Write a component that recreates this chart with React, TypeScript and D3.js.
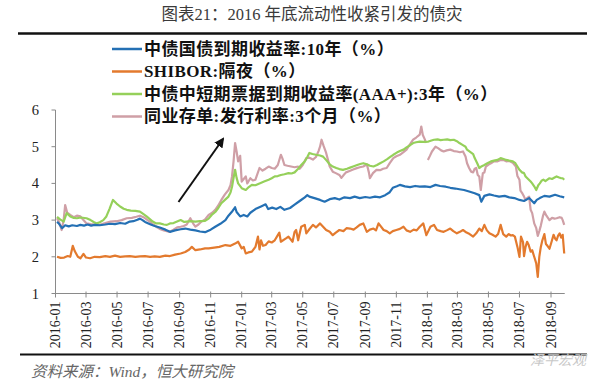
import React from "react";
import * as d3 from "d3";

type Pt = [string, number | null];

const titleText = "图表21：2016 年底流动性收紧引发的债灾";
const sourceText = "资料来源：Wind，恒大研究院";
const watermarkText = "泽平宏观";

const seriesNames = [
  "中债国债到期收益率:10年（%）",
  "SHIBOR:隔夜（%）",
  "中债中短期票据到期收益率(AAA+):3年（%）",
  "同业存单:发行利率:3个月（%）",
];
const seriesColors = ["#2470b4", "#e37a2e", "#95d05a", "#cf9fa6"];

const yTicks = [1, 2, 3, 4, 5, 6];

const govt10y: Pt[] = [
  ["2016-01-04", 2.95], ["2016-01-08", 2.9], ["2016-01-14", 2.78], ["2016-01-20", 2.86], ["2016-01-27", 2.83],
  ["2016-02-03", 2.86], ["2016-02-12", 2.84], ["2016-02-19", 2.87], ["2016-02-26", 2.85], ["2016-03-04", 2.88],
  ["2016-03-11", 2.85], ["2016-03-18", 2.87], ["2016-03-28", 2.86], ["2016-04-08", 2.88], ["2016-04-17", 2.9],
  ["2016-04-27", 2.89], ["2016-05-07", 2.92], ["2016-05-17", 2.9], ["2016-05-26", 2.96], ["2016-06-02", 2.97],
  ["2016-06-10", 3.01], ["2016-06-15", 3.04], ["2016-06-20", 3.0], ["2016-06-25", 2.95], ["2016-07-05", 2.89],
  ["2016-07-10", 2.86], ["2016-07-14", 2.84], ["2016-07-24", 2.8], ["2016-08-04", 2.74], ["2016-08-13", 2.68],
  ["2016-08-23", 2.72], ["2016-09-03", 2.75], ["2016-09-12", 2.77], ["2016-09-22", 2.74], ["2016-10-02", 2.72],
  ["2016-10-11", 2.69], ["2016-10-21", 2.67], ["2016-11-01", 2.74], ["2016-11-10", 2.82], ["2016-11-20", 2.9],
  ["2016-11-30", 3.0], ["2016-12-06", 3.12], ["2016-12-14", 3.25], ["2016-12-19", 3.35], ["2016-12-22", 3.22],
  ["2016-12-29", 3.1], ["2017-01-05", 3.14], ["2017-01-12", 3.1], ["2017-01-18", 3.2], ["2017-01-28", 3.3],
  ["2017-02-08", 3.37], ["2017-02-17", 3.43], ["2017-02-22", 3.3], ["2017-03-02", 3.34], ["2017-03-10", 3.3],
  ["2017-03-18", 3.36], ["2017-03-26", 3.28], ["2017-04-06", 3.33], ["2017-04-15", 3.42], ["2017-04-25", 3.52],
  ["2017-05-05", 3.62], ["2017-05-10", 3.68], ["2017-05-14", 3.64], ["2017-05-24", 3.6], ["2017-06-04", 3.55],
  ["2017-06-13", 3.5], ["2017-06-23", 3.57], ["2017-07-03", 3.6], ["2017-07-12", 3.56], ["2017-07-22", 3.62],
  ["2017-08-02", 3.6], ["2017-08-11", 3.64], ["2017-08-21", 3.6], ["2017-09-01", 3.63], ["2017-09-10", 3.61],
  ["2017-09-20", 3.64], ["2017-09-30", 3.62], ["2017-10-10", 3.68], ["2017-10-19", 3.76], ["2017-10-25", 3.88],
  ["2017-11-02", 3.92], ["2017-11-08", 3.96], ["2017-11-18", 3.92], ["2017-11-28", 3.9], ["2017-12-08", 3.93],
  ["2017-12-17", 3.91], ["2017-12-27", 3.92], ["2018-01-07", 3.9], ["2018-01-17", 3.96], ["2018-01-26", 3.93],
  ["2018-02-06", 3.91], ["2018-02-15", 3.88], ["2018-02-25", 3.86], ["2018-03-05", 3.84], ["2018-03-14", 3.82],
  ["2018-03-24", 3.78], ["2018-04-04", 3.73], ["2018-04-13", 3.68], ["2018-04-17", 3.5], ["2018-04-23", 3.66],
  ["2018-05-03", 3.7], ["2018-05-12", 3.67], ["2018-05-22", 3.64], ["2018-06-02", 3.66], ["2018-06-11", 3.62],
  ["2018-06-21", 3.6], ["2018-07-01", 3.55], ["2018-07-10", 3.52], ["2018-07-20", 3.6], ["2018-07-30", 3.46],
  ["2018-08-04", 3.55], ["2018-08-10", 3.6], ["2018-08-19", 3.66], ["2018-08-29", 3.64], ["2018-09-09", 3.69],
  ["2018-09-18", 3.65], ["2018-09-27", 3.62],
];

const shiborON: Pt[] = [
  ["2016-01-04", 2.0], ["2016-01-11", 1.97], ["2016-01-18", 1.98], ["2016-01-25", 2.02], ["2016-01-30", 2.0],
  ["2016-02-04", 2.3], ["2016-02-08", 2.15], ["2016-02-14", 2.0], ["2016-02-19", 1.96], ["2016-02-25", 2.08],
  ["2016-03-01", 1.98], ["2016-03-09", 1.96], ["2016-03-18", 2.0], ["2016-03-28", 1.99], ["2016-04-08", 2.02],
  ["2016-04-17", 2.0], ["2016-04-27", 2.03], ["2016-05-07", 2.0], ["2016-05-17", 2.01], ["2016-05-26", 2.02],
  ["2016-06-06", 2.0], ["2016-06-15", 2.01], ["2016-06-25", 2.02], ["2016-07-05", 2.0], ["2016-07-14", 2.01],
  ["2016-07-24", 2.0], ["2016-08-04", 2.03], ["2016-08-13", 2.02], ["2016-08-23", 2.06], ["2016-09-03", 2.09],
  ["2016-09-12", 2.13], ["2016-09-20", 2.2], ["2016-09-25", 2.27], ["2016-10-02", 2.18], ["2016-10-11", 2.2],
  ["2016-10-21", 2.23], ["2016-10-28", 2.23], ["2016-11-08", 2.25], ["2016-11-18", 2.27], ["2016-11-30", 2.32],
  ["2016-12-10", 2.3], ["2016-12-19", 2.36], ["2016-12-25", 2.41], ["2017-01-01", 2.23], ["2017-01-05", 2.27],
  ["2017-01-09", 2.09], ["2017-01-14", 2.12], ["2017-01-21", 2.14], ["2017-01-28", 2.27], ["2017-02-02", 2.55],
  ["2017-02-05", 2.2], ["2017-02-08", 2.45], ["2017-02-12", 2.3], ["2017-02-17", 2.32], ["2017-02-23", 2.42],
  ["2017-03-01", 2.39], ["2017-03-07", 2.45], ["2017-03-13", 2.59], ["2017-03-16", 2.66], ["2017-03-19", 2.41],
  ["2017-03-29", 2.5], ["2017-04-03", 2.55], ["2017-04-11", 2.41], ["2017-04-15", 2.68], ["2017-04-18", 2.73],
  ["2017-04-22", 2.45], ["2017-04-28", 2.82], ["2017-05-05", 2.87], ["2017-05-08", 2.64], ["2017-05-14", 2.75],
  ["2017-05-21", 2.87], ["2017-05-27", 2.8], ["2017-06-04", 2.91], ["2017-06-10", 2.82], ["2017-06-16", 2.73],
  ["2017-06-23", 2.68], ["2017-06-29", 2.59], ["2017-07-05", 2.66], ["2017-07-12", 2.73], ["2017-07-20", 2.7],
  ["2017-07-26", 2.78], ["2017-08-02", 2.77], ["2017-08-09", 2.74], ["2017-08-15", 2.8], ["2017-08-21", 2.87],
  ["2017-08-28", 2.91], ["2017-09-04", 2.68], ["2017-09-10", 2.74], ["2017-09-17", 2.77], ["2017-09-22", 2.72],
  ["2017-09-27", 2.91], ["2017-10-07", 2.73], ["2017-10-13", 2.7], ["2017-10-19", 2.64], ["2017-10-25", 2.7],
  ["2017-11-01", 2.73], ["2017-11-08", 2.76], ["2017-11-15", 2.82], ["2017-11-21", 2.72], ["2017-11-28", 2.68],
  ["2017-12-05", 2.74], ["2017-12-11", 2.72], ["2017-12-17", 2.82], ["2017-12-24", 2.91], ["2017-12-30", 2.59],
  ["2018-01-07", 2.82], ["2018-01-14", 2.87], ["2018-01-20", 2.73], ["2018-01-27", 2.7], ["2018-02-02", 2.68],
  ["2018-02-08", 2.72], ["2018-02-15", 2.77], ["2018-02-21", 2.7], ["2018-02-28", 2.64], ["2018-03-06", 2.68],
  ["2018-03-12", 2.73], ["2018-03-19", 2.66], ["2018-03-25", 2.62], ["2018-04-01", 2.55], ["2018-04-07", 2.64],
  ["2018-04-13", 2.77], ["2018-04-18", 2.7], ["2018-04-23", 2.87], ["2018-04-28", 2.72], ["2018-05-03", 2.64],
  ["2018-05-09", 2.6], ["2018-05-15", 2.55], ["2018-05-20", 2.62], ["2018-05-25", 2.87], ["2018-05-30", 2.62],
  ["2018-06-05", 2.55], ["2018-06-10", 2.62], ["2018-06-14", 2.58], ["2018-06-18", 2.59], ["2018-06-22", 2.55],
  ["2018-06-27", 2.27], ["2018-07-01", 2.0], ["2018-07-04", 2.55], ["2018-07-08", 2.4], ["2018-07-10", 2.02],
  ["2018-07-13", 2.27], ["2018-07-16", 2.41], ["2018-07-19", 2.33], ["2018-07-23", 2.14], ["2018-07-26", 2.18],
  ["2018-07-30", 2.0], ["2018-08-03", 1.82], ["2018-08-06", 1.45], ["2018-08-09", 2.0], ["2018-08-12", 2.27],
  ["2018-08-15", 2.45], ["2018-08-19", 2.62], ["2018-08-22", 2.35], ["2018-08-25", 2.3], ["2018-08-29", 2.22],
  ["2018-09-03", 2.45], ["2018-09-06", 2.6], ["2018-09-09", 2.5], ["2018-09-12", 2.45], ["2018-09-15", 2.58],
  ["2018-09-18", 2.64], ["2018-09-21", 2.52], ["2018-09-24", 2.6], ["2018-09-27", 2.09],
];

const mtn3y: Pt[] = [
  ["2016-01-04", 3.09], ["2016-01-10", 3.02], ["2016-01-17", 2.96], ["2016-01-23", 3.19], ["2016-01-30", 3.1],
  ["2016-02-06", 3.06], ["2016-02-12", 3.05], ["2016-02-20", 3.07], ["2016-03-02", 3.05], ["2016-03-10", 3.0],
  ["2016-03-16", 2.95], ["2016-03-22", 2.91], ["2016-03-28", 2.94], ["2016-04-04", 3.0], ["2016-04-10", 3.1],
  ["2016-04-16", 3.3], ["2016-04-23", 3.55], ["2016-04-30", 3.45], ["2016-05-07", 3.37], ["2016-05-14", 3.31],
  ["2016-05-20", 3.28], ["2016-05-28", 3.26], ["2016-06-06", 3.25], ["2016-06-15", 3.23], ["2016-06-22", 3.16],
  ["2016-06-28", 3.1], ["2016-07-05", 3.02], ["2016-07-10", 2.96], ["2016-07-17", 2.91], ["2016-07-24", 2.91],
  ["2016-08-01", 2.88], ["2016-08-07", 2.87], ["2016-08-13", 2.91], ["2016-08-20", 2.92], ["2016-08-27", 2.96],
  ["2016-09-03", 3.0], ["2016-09-10", 2.95], ["2016-09-15", 2.96], ["2016-09-22", 2.97], ["2016-10-02", 2.96],
  ["2016-10-11", 2.97], ["2016-10-21", 2.98], ["2016-10-28", 3.04], ["2016-11-03", 3.14], ["2016-11-10", 3.22],
  ["2016-11-16", 3.33], ["2016-11-22", 3.46], ["2016-11-29", 3.55], ["2016-12-06", 3.64], ["2016-12-10", 3.75],
  ["2016-12-13", 3.91], ["2016-12-16", 4.15], ["2016-12-19", 4.37], ["2016-12-22", 4.15], ["2016-12-25", 4.0],
  ["2017-01-01", 3.87], ["2017-01-09", 3.82], ["2017-01-15", 3.9], ["2017-01-21", 3.96], ["2017-01-28", 3.95],
  ["2017-02-05", 4.0], ["2017-02-14", 4.05], ["2017-02-23", 4.1], ["2017-03-01", 4.14], ["2017-03-07", 4.19],
  ["2017-03-13", 4.2], ["2017-03-19", 4.23], ["2017-03-26", 4.25], ["2017-04-03", 4.28], ["2017-04-09", 4.27],
  ["2017-04-15", 4.3], ["2017-04-22", 4.4], ["2017-04-28", 4.5], ["2017-05-05", 4.6], ["2017-05-10", 4.72],
  ["2017-05-14", 4.83], ["2017-05-20", 4.8], ["2017-05-27", 4.78], ["2017-06-04", 4.76], ["2017-06-10", 4.73],
  ["2017-06-17", 4.62], ["2017-06-23", 4.52], ["2017-06-29", 4.46], ["2017-07-06", 4.42], ["2017-07-12", 4.39],
  ["2017-07-19", 4.37], ["2017-07-27", 4.4], ["2017-08-02", 4.43], ["2017-08-08", 4.46], ["2017-08-16", 4.5],
  ["2017-08-22", 4.53], ["2017-08-28", 4.55], ["2017-09-04", 4.52], ["2017-09-10", 4.48], ["2017-09-17", 4.46],
  ["2017-09-24", 4.5], ["2017-09-30", 4.55], ["2017-10-07", 4.6], ["2017-10-14", 4.66], ["2017-10-20", 4.72],
  ["2017-10-26", 4.78], ["2017-11-02", 4.84], ["2017-11-08", 4.88], ["2017-11-15", 4.92], ["2017-11-21", 4.98],
  ["2017-11-28", 5.04], ["2017-12-04", 5.1], ["2017-12-10", 5.12], ["2017-12-17", 5.14], ["2017-12-24", 5.13],
  ["2018-01-03", 5.14], ["2018-01-09", 5.17], ["2018-01-14", 5.19], ["2018-01-21", 5.2], ["2018-01-27", 5.18],
  ["2018-02-02", 5.19], ["2018-02-09", 5.2], ["2018-02-15", 5.18], ["2018-02-22", 5.19], ["2018-02-28", 5.15],
  ["2018-03-05", 5.1], ["2018-03-11", 5.05], ["2018-03-17", 5.0], ["2018-03-20", 4.92], ["2018-03-26", 4.86],
  ["2018-04-01", 4.8], ["2018-04-04", 4.69], ["2018-04-09", 4.55], ["2018-04-13", 4.42], ["2018-04-18", 4.47],
  ["2018-04-23", 4.5], ["2018-04-29", 4.55], ["2018-05-06", 4.6], ["2018-05-12", 4.62], ["2018-05-19", 4.64],
  ["2018-05-25", 4.69], ["2018-06-01", 4.66], ["2018-06-05", 4.64], ["2018-06-11", 4.62], ["2018-06-18", 4.6],
  ["2018-06-23", 4.55], ["2018-06-27", 4.46], ["2018-07-01", 4.37], ["2018-07-06", 4.3], ["2018-07-10", 4.28],
  ["2018-07-13", 4.19], ["2018-07-18", 4.12], ["2018-07-23", 4.05], ["2018-07-26", 4.0], ["2018-07-30", 3.92],
  ["2018-08-03", 3.82], ["2018-08-07", 3.95], ["2018-08-10", 4.0], ["2018-08-14", 4.08], ["2018-08-17", 4.1],
  ["2018-08-21", 4.06], ["2018-08-25", 4.1], ["2018-08-29", 4.14], ["2018-09-03", 4.12], ["2018-09-08", 4.16],
  ["2018-09-12", 4.19], ["2018-09-17", 4.16], ["2018-09-21", 4.14], ["2018-09-24", 4.14], ["2018-09-27", 4.1],
];

const ncd3m: Pt[] = [
  ["2016-01-04", 3.05], ["2016-01-08", 2.95], ["2016-01-13", 2.73], ["2016-01-17", 3.0], ["2016-01-20", 3.41],
  ["2016-01-24", 3.2], ["2016-01-30", 3.14], ["2016-02-06", 3.08], ["2016-02-12", 3.12], ["2016-02-19", 3.1],
  ["2016-02-25", 3.0], ["2016-03-02", 2.91], ["2016-03-10", 2.89], ["2016-03-18", 2.88], ["2016-03-28", 2.87],
  ["2016-04-08", 2.92], ["2016-04-18", 2.96], ["2016-04-30", 2.97], ["2016-05-10", 3.0], ["2016-05-20", 3.05],
  ["2016-05-30", 3.06], ["2016-06-08", 3.09], ["2016-06-15", 3.12], ["2016-06-22", 3.08], ["2016-06-28", 3.02],
  ["2016-07-05", 2.95], ["2016-07-11", 2.88], ["2016-07-17", 2.82], ["2016-07-24", 2.76], ["2016-08-01", 2.72],
  ["2016-08-07", 2.7], ["2016-08-12", 2.68], ["2016-08-20", 2.74], ["2016-08-27", 2.8], ["2016-09-03", 2.82],
  ["2016-09-09", 2.84], ["2016-09-15", 2.88], ["2016-09-22", 3.05], ["2016-09-28", 2.9], ["2016-10-02", 2.82],
  ["2016-10-08", 2.88], ["2016-10-14", 2.96], ["2016-10-21", 3.02], ["2016-10-28", 3.14], ["2016-11-04", 3.2],
  ["2016-11-10", 3.28], ["2016-11-16", 3.4], ["2016-11-22", 3.55], ["2016-11-29", 3.7], ["2016-12-06", 3.82],
  ["2016-12-10", 3.95], ["2016-12-13", 4.19], ["2016-12-16", 4.6], ["2016-12-19", 5.1], ["2016-12-22", 4.87],
  ["2016-12-25", 4.6], ["2016-12-29", 4.75], ["2017-01-01", 4.05], ["2017-01-05", 4.12], ["2017-01-09", 4.19],
  ["2017-01-12", 4.0], ["2017-01-18", 4.14], ["2017-01-23", 4.08], ["2017-01-28", 4.1], ["2017-02-05", 4.42],
  ["2017-02-11", 4.35], ["2017-02-17", 4.4], ["2017-02-23", 4.46], ["2017-03-01", 4.42], ["2017-03-07", 4.4],
  ["2017-03-13", 4.5], ["2017-03-19", 4.78], ["2017-03-22", 4.68], ["2017-03-26", 4.5], ["2017-04-01", 4.48],
  ["2017-04-08", 4.46], ["2017-04-15", 4.44], ["2017-04-22", 4.46], ["2017-04-25", 4.4], ["2017-05-01", 4.5],
  ["2017-05-08", 4.69], ["2017-05-14", 4.7], ["2017-05-21", 4.65], ["2017-05-27", 4.72], ["2017-06-01", 4.88],
  ["2017-06-04", 5.0], ["2017-06-07", 5.19], ["2017-06-11", 5.02], ["2017-06-16", 4.83], ["2017-06-20", 4.62],
  ["2017-06-23", 4.46], ["2017-06-29", 4.32], ["2017-07-05", 4.28], ["2017-07-12", 4.23], ["2017-07-16", 4.15],
  ["2017-07-20", 4.22], ["2017-07-25", 4.3], ["2017-08-01", 4.34], ["2017-08-08", 4.38], ["2017-08-14", 4.41],
  ["2017-08-21", 4.44], ["2017-08-28", 4.46], ["2017-09-04", 4.52], ["2017-09-08", 4.3], ["2017-09-10", 4.14],
  ["2017-09-16", 4.28], ["2017-09-23", 4.37], ["2017-09-30", 4.36], ["2017-10-06", 4.4], ["2017-10-13", 4.42],
  ["2017-10-19", 4.55], ["2017-10-26", 4.69], ["2017-11-01", 4.74], ["2017-11-08", 4.78], ["2017-11-15", 4.85],
  ["2017-11-21", 4.92], ["2017-11-27", 5.05], ["2017-12-04", 5.19], ["2017-12-10", 5.25], ["2017-12-17", 5.33],
  ["2017-12-20", 5.55], ["2017-12-23", 5.32], ["2017-12-27", 5.2], ["2017-12-29", 5.1], ["2017-12-30", null],
  ["2018-01-02", 4.64], ["2018-01-06", 4.75], ["2018-01-10", 4.87], ["2018-01-17", 5.0], ["2018-01-22", 4.96],
  ["2018-01-28", 4.9], ["2018-02-02", 4.87], ["2018-02-08", 4.9], ["2018-02-15", 4.92], ["2018-02-22", 4.88],
  ["2018-02-28", 4.87], ["2018-03-06", 4.85], ["2018-03-12", 4.87], ["2018-03-17", 4.73], ["2018-03-20", 4.55],
  ["2018-03-24", 4.42], ["2018-03-28", 4.32], ["2018-04-01", 4.3], ["2018-04-04", 4.4], ["2018-04-07", 4.42],
  ["2018-04-10", 4.23], ["2018-04-13", 4.19], ["2018-04-16", 3.82], ["2018-04-20", 4.28], ["2018-04-23", 4.3],
  ["2018-04-26", 4.46], ["2018-05-02", 4.52], ["2018-05-06", 4.55], ["2018-05-12", 4.6], ["2018-05-19", 4.6],
  ["2018-05-25", 4.64], ["2018-06-01", 4.63], ["2018-06-05", 4.6], ["2018-06-11", 4.61], ["2018-06-18", 4.56],
  ["2018-06-24", 4.46], ["2018-06-27", 4.2], ["2018-07-01", 4.1], ["2018-07-03", 3.8], ["2018-07-07", 3.72],
  ["2018-07-10", 3.64], ["2018-07-13", 3.55], ["2018-07-16", 3.6], ["2018-07-20", 3.64], ["2018-07-23", 3.28],
  ["2018-07-26", 3.19], ["2018-07-30", 2.91], ["2018-08-03", 2.78], ["2018-08-06", 2.57], ["2018-08-09", 2.7],
  ["2018-08-12", 2.85], ["2018-08-16", 3.1], ["2018-08-19", 3.23], ["2018-08-23", 3.12], ["2018-08-29", 3.0],
  ["2018-09-03", 3.06], ["2018-09-08", 3.04], ["2018-09-12", 3.05], ["2018-09-18", 3.08], ["2018-09-22", 3.06],
  ["2018-09-24", 3.0], ["2018-09-27", 2.87],
];

const allSeries: Pt[][] = [govt10y, shiborON, mtn3y, ncd3m];
const drawOrder = [3, 2, 0, 1];

const parse = d3.timeParse("%Y-%m-%d");
const fmt = d3.timeFormat("%Y-%m");

export default function App() {
  const W = 600;
  const H = 383;
  const x = d3
    .scaleTime()
    .domain([parse("2016-01-01")!, parse("2018-09-01")!])
    .range([55.5, 551]);
  const y = d3.scaleLinear().domain([1, 6]).range([293.5, 110]);
  const xEnd = x(parse("2018-09-28")!);
  const xTicks = d3.timeMonth.every(2)!.range(parse("2016-01-01")!, parse("2018-09-02")!);

  const line = d3
    .line<Pt>()
    .defined((d) => d[1] !== null)
    .x((d) => x(parse(d[0])!))
    .y((d) => y(d[1] as number))
    .curve(d3.curveLinear);

  const serif = "'Liberation Serif', 'Times New Roman', 'Noto Sans CJK SC', serif";
  const legendRows = [49, 71.5, 94, 116.5];

  return (
    <svg
      width={W}
      height={H}
      viewBox={`0 0 ${W} ${H}`}
      style={{ position: "absolute", left: 0, top: 0, background: "#fff" }}
    >
      <rect x={0} y={0} width={W} height={H} fill="#fff" />
      <defs>
        <marker id="ah" viewBox="0 0 10 10" refX="8" refY="5" markerWidth="5" markerHeight="5" orient="auto">
          <path d="M0,0 L10,5 L0,10 z" fill="#111" />
        </marker>
      </defs>

      {/* title */}
      <text
        x={312}
        y={20}
        textAnchor="middle"
        fontFamily={serif}
        fontSize={16.5}
        fill="#3a3a3a"
      >
        {titleText}
      </text>
      <line x1={18} x2={587} y1={33.5} y2={33.5} stroke="#111" strokeWidth={2.6} />

      {/* legend */}
      {seriesNames.map((name, i) => (
        <g key={name}>
          <line
            x1={112}
            x2={142}
            y1={legendRows[i]}
            y2={legendRows[i]}
            stroke={seriesColors[i]}
            strokeWidth={2.5}
          />
          <text
            x={144}
            y={legendRows[i]}
            dominantBaseline="central"
            fontFamily={serif}
            fontWeight="bold"
            fontSize={17}
            letterSpacing={0.4}
            fill="#111"
          >
            {name}
          </text>
        </g>
      ))}

      {/* axes */}
      <line x1={55.5} x2={55.5} y1={y(6)} y2={y(1)} stroke="#8a8a8a" strokeWidth={1} />
      {yTicks.map((t) => (
        <g key={t}>
          <line x1={51.5} x2={55.5} y1={y(t)} y2={y(t)} stroke="#8a8a8a" strokeWidth={1} />
          <text
            x={39}
            y={y(t)}
            textAnchor="end"
            dominantBaseline="central"
            fontFamily={serif}
            fontSize={14.5}
            fill="#222"
          >
            {t}
          </text>
        </g>
      ))}
      <line x1={55.5} x2={xEnd} y1={y(1)} y2={y(1)} stroke="#8a8a8a" strokeWidth={1} />
      {xTicks.map((d) => {
        const xp = x(d);
        return (
          <g key={fmt(d)}>
            <line x1={xp} x2={xp} y1={y(1) - 2} y2={y(1) + 4} stroke="#8a8a8a" strokeWidth={1} />
            <text
              transform={`translate(${xp},${y(1) + 8}) rotate(-90)`}
              textAnchor="end"
              dominantBaseline="central"
              fontFamily={serif}
              fontSize={14}
              fill="#222"
            >
              {fmt(d)}
            </text>
          </g>
        );
      })}

      {/* series */}
      {drawOrder.map((i) => (
        <path
          key={i}
          d={line(allSeries[i]) || ""}
          fill="none"
          stroke={seriesColors[i]}
          strokeWidth={2.2}
          strokeLinejoin="round"
        />
      ))}

      {/* arrow */}
      <line x1={178.5} y1={202} x2={223} y2={139} stroke="#111" strokeWidth={2} markerEnd="url(#ah)" />

      {/* bottom rule and source */}
      <line x1={20} x2={587} y1={354.5} y2={354.5} stroke="#111" strokeWidth={2.2} />
      <text
        x={31}
        y={371}
        dominantBaseline="central"
        fontFamily={serif}
        fontStyle="italic"
        fontSize={15.5}
        fill="#666"
      >
        {sourceText}
      </text>
      <text
        x={530}
        y={359}
        dominantBaseline="central"
        fontFamily="'Noto Sans CJK SC', sans-serif"
        fontStyle="italic"
        fontSize={14}
        fill="#c8c8c8"
      >
        {watermarkText}
      </text>
    </svg>
  );
}
